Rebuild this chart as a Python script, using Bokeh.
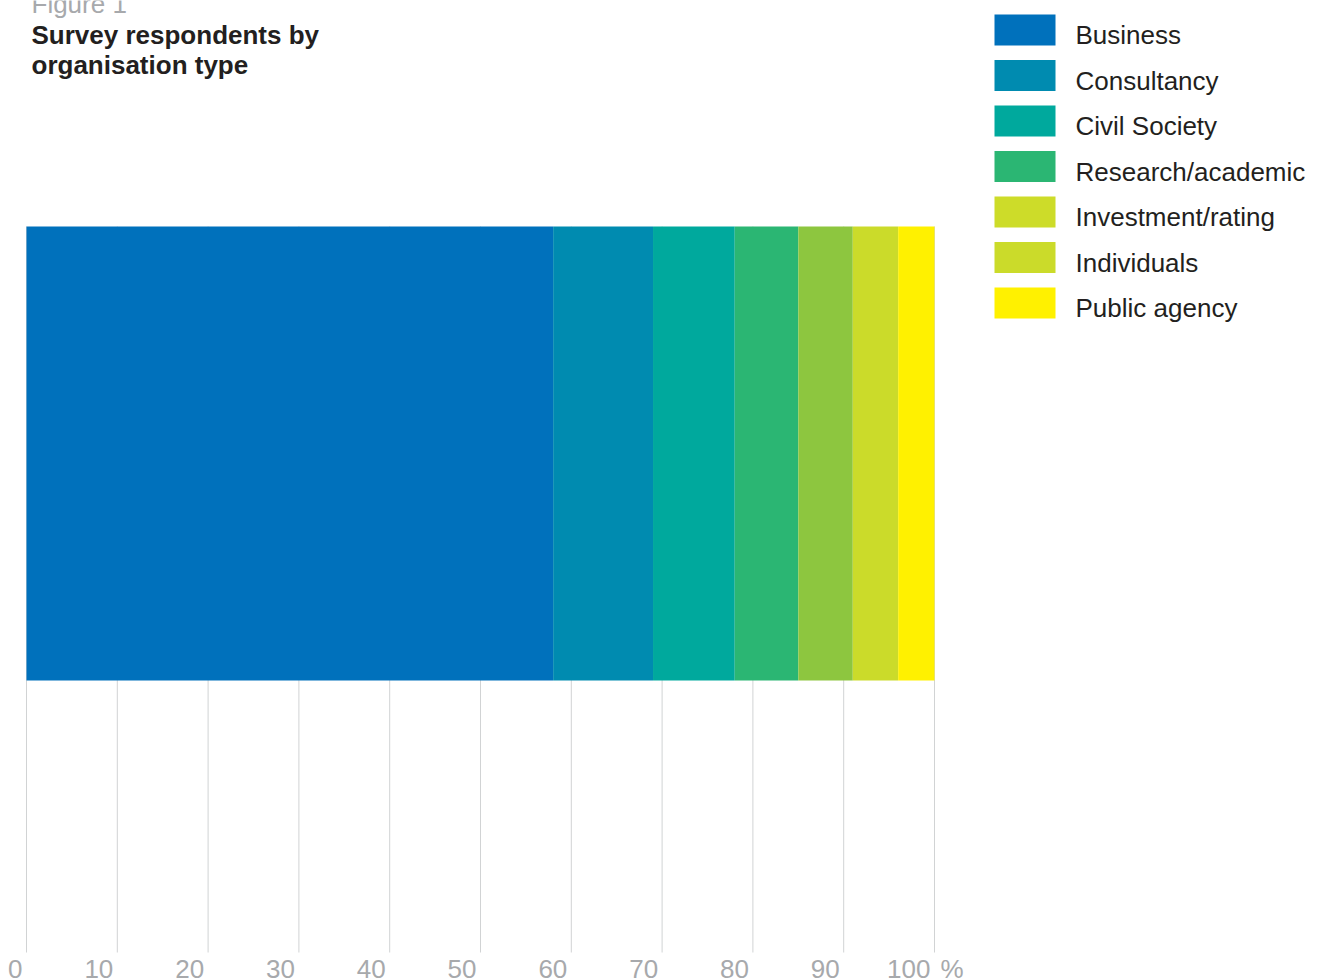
import numpy as np
from bokeh.plotting import figure
from bokeh.models import Range1d
from bokeh.embed import file_html
from bokeh.resources import INLINE
from bokeh.core.properties import value

# ---- data ----
categories = ["Business", "Consultancy", "Civil Society", "Research/academic",
              "Investment/rating", "Individuals", "Public agency"]
shares = [58, 11, 9, 7, 6, 5, 4]
bar_colors = ["#0071bc", "#008bb0", "#00a99d", "#2bb673", "#8dc63f", "#cbdb2a", "#fff100"]
legend_colors = ["#0071bc", "#008bb0", "#00a99d", "#2bb673", "#cddc29", "#cbdb2a", "#fff100"]
ticks = [0, 10, 20, 30, 40, 50, 60, 70, 80, 90, 100]
tick_labels = ["0", "10", "20", "30", "40", "50", "60", "70", "80", "90", "100"]
unit_label = "%"
fig_label = "Figure 1"
title_lines = ["Survey respondents by", "organisation type"]

# ---- layout ----
W, H = 1320, 980
X0_PX, X100_PX = 26, 934
ppu = (X100_PX - X0_PX) / 100.0
BAR_TOP, BAR_BOTTOM, GRID_BOTTOM = 226, 680, 952
FONT = value("Liberation Sans")
DARK = "#231f20"
GREY = "#a7a9ac"
SHIFT = -10  # compensate baseline placement of svg text

p = figure(width=W, height=H,
           x_range=Range1d(-X0_PX / ppu, (W - X0_PX) / ppu),
           y_range=Range1d(H, 0),
           x_axis_type=None, y_axis_type=None,
           output_backend="svg", toolbar_location=None, min_border=0)
p.extra_x_ranges = {"px": Range1d(0, W)}
p.outline_line_color = None
p.grid.visible = False
p.background_fill_color = "white"
p.border_fill_color = "white"

# grid lines
p.segment(x0=ticks, y0=[BAR_TOP] * len(ticks), x1=ticks, y1=[GRID_BOTTOM] * len(ticks),
          line_color="#d1d3d4", line_width=1)

# stacked bar
right = np.cumsum(shares)
left = right - np.array(shares)
p.quad(left=left, right=right, top=[BAR_TOP] * len(shares), bottom=[BAR_BOTTOM] * len(shares),
       fill_color=bar_colors, line_color=None)

# tick labels
TICK_Y = 978 + SHIFT
p.text(x=ticks, y=[TICK_Y] * len(ticks), text=tick_labels, text_align="right",
       text_baseline="alphabetic", x_offset=-4, text_font=FONT,
       text_font_size="26px", text_color=GREY)
p.text(x=[ticks[-1]], y=[TICK_Y], text=[unit_label], text_align="left",
       text_baseline="alphabetic", x_offset=6, text_font=FONT,
       text_font_size="26px", text_color=GREY)

# titles
p.text(x=[31], y=[13 + SHIFT], text=[fig_label], x_range_name="px", text_font=FONT,
       text_font_size="26px", text_color=GREY, text_baseline="alphabetic")
p.text(x=[31, 31], y=[44 + SHIFT, 74 + SHIFT], text=title_lines, x_range_name="px",
       text_font=FONT, text_font_size="26px", text_font_style="bold", text_color=DARK,
       text_baseline="alphabetic")

# legend
tops = 14 + 45.5 * np.arange(len(categories))
p.quad(left=[994] * len(categories), right=[1055] * len(categories), top=tops, bottom=tops + 31,
       fill_color=legend_colors, line_color=None, x_range_name="px")
p.text(x=[1075] * len(categories), y=tops + 30.5 + SHIFT, text=categories, x_range_name="px",
       text_font=FONT, text_font_size="26px", text_color=DARK, text_baseline="alphabetic")

open("out.html", "w").write(file_html(p, INLINE))
